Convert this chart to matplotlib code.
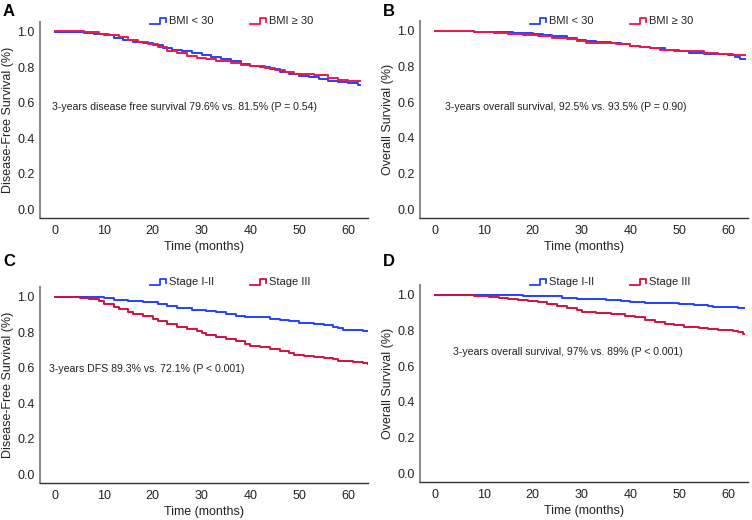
import matplotlib
matplotlib.use("Agg")
import matplotlib.pyplot as plt
from matplotlib.lines import Line2D

plt.rcParams['font.family'] = ['Liberation Sans', 'DejaVu Sans']

W, H = 752, 520

# ---------------- data ----------------
# Panel A: disease-free survival by BMI
a_low_t = [0, 3, 6, 8, 10, 12, 14, 16, 18, 20, 22, 24, 26, 28, 30, 32, 34, 36, 38, 40,
           42, 44, 46, 48, 50, 52, 54, 56, 58, 60, 62, 62.4]
a_low_s = [1.0, 0.998, 0.995, 0.99, 0.985, 0.965, 0.955, 0.945, 0.935, 0.925, 0.91, 0.898,
           0.89, 0.88, 0.87, 0.86, 0.845, 0.835, 0.82, 0.805, 0.80, 0.79, 0.775, 0.762,
           0.752, 0.745, 0.735, 0.725, 0.718, 0.71, 0.70, 0.70]
a_high_t = [0, 6, 9, 11, 13, 15, 17, 19, 21, 23, 25, 27, 29, 31, 33, 36, 38, 40, 43, 45,
            47, 49, 53, 56, 58, 60, 62.4]
a_high_s = [1.003, 0.997, 0.99, 0.98, 0.97, 0.955, 0.945, 0.93, 0.915, 0.895, 0.882, 0.866,
            0.855, 0.845, 0.835, 0.826, 0.815, 0.805, 0.795, 0.785, 0.772, 0.765, 0.758,
            0.74, 0.73, 0.725, 0.723]

# Panel B: overall survival by BMI
b_low_t = [0, 8, 12, 16, 20, 22, 24, 27, 29, 31, 33, 36, 38, 40, 42, 44, 47, 50, 52, 55,
           58, 60, 61.5, 62.5, 63.4]
b_low_s = [1.0, 0.997, 0.992, 0.99, 0.985, 0.978, 0.97, 0.96, 0.952, 0.946, 0.94, 0.932,
           0.925, 0.915, 0.91, 0.902, 0.895, 0.888, 0.878, 0.873, 0.87, 0.866, 0.855,
           0.845, 0.845]
b_high_t = [0, 8, 12, 15, 18, 21, 24, 27, 29, 31, 34, 37, 40, 42, 44, 46, 49, 52, 55, 58,
            61, 63.4]
b_high_s = [1.0, 0.995, 0.99, 0.985, 0.978, 0.97, 0.962, 0.955, 0.942, 0.935, 0.93, 0.925,
            0.918, 0.91, 0.902, 0.895, 0.89, 0.885, 0.878, 0.872, 0.866, 0.863]

# Panel C: disease-free survival by stage
c_early_t = [0, 6, 10, 12, 15, 18, 21, 23, 25, 28, 31, 33, 35, 37, 39, 42, 44, 46, 48, 50,
             53, 55, 57, 58, 59, 61, 63, 64]
c_early_s = [1.0, 0.998, 0.992, 0.985, 0.978, 0.97, 0.96, 0.95, 0.935, 0.925, 0.918, 0.915,
             0.905, 0.895, 0.888, 0.885, 0.878, 0.87, 0.862, 0.855, 0.85, 0.842, 0.83,
             0.822, 0.815, 0.811, 0.808, 0.808]
c_late_t = [0, 5, 7, 9, 10, 12, 13, 15, 16, 18, 20, 21, 23, 25, 27, 29, 30, 31, 33, 35, 37,
            39, 40, 42, 44, 46, 48, 49, 51, 53, 55, 57, 58, 61, 63, 64]
c_late_s = [1.0, 0.995, 0.99, 0.975, 0.96, 0.945, 0.932, 0.915, 0.905, 0.89, 0.875, 0.865,
            0.85, 0.832, 0.82, 0.805, 0.795, 0.785, 0.775, 0.76, 0.75, 0.735, 0.725, 0.718,
            0.705, 0.695, 0.685, 0.675, 0.668, 0.662, 0.655, 0.648, 0.638, 0.632, 0.625,
            0.622]

# Panel D: overall survival by stage
d_early_t = [0, 12, 18, 22, 26, 29, 32, 35, 38, 40, 43, 47, 50, 53, 56, 57, 60, 62, 63.3]
d_early_s = [1.0, 0.998, 0.995, 0.992, 0.985, 0.98, 0.975, 0.97, 0.965, 0.96, 0.957, 0.953,
             0.95, 0.945, 0.94, 0.935, 0.932, 0.927, 0.927]
d_late_t = [0, 3, 8, 11, 13, 15, 17, 19, 21, 23, 25, 27, 29, 30, 33, 36, 39, 41, 43, 45, 47,
            49, 51, 54, 56, 58, 61, 62, 63, 63.3]
d_late_s = [1.0, 0.998, 0.995, 0.99, 0.985, 0.978, 0.972, 0.965, 0.96, 0.948, 0.938, 0.928,
            0.918, 0.907, 0.9, 0.893, 0.882, 0.875, 0.86, 0.848, 0.838, 0.83, 0.822, 0.815,
            0.81, 0.806, 0.8, 0.79, 0.782, 0.782]

x_ticks = [0, 10, 20, 30, 40, 50, 60]
y_ticks = [0.0, 0.2, 0.4, 0.6, 0.8, 1.0]
y_tick_labels = ["0.0", "0.2", "0.4", "0.6", "0.8", "1.0"]

BLUE = "#2340ff"
RED_AB = "#f0174b"
RED_CD = "#d3103f"

panels = [
    dict(letter="A", box=(40, 22, 368, 218), ylabel="Disease-Free Survival (%)",
         curves=[(a_low_t, a_low_s, BLUE), (a_high_t, a_high_s, RED_AB)],
         legend=["BMI < 30", "BMI \u2265 30"], leg_x=(150, 250), leg_y=21,
         note="3-years disease free survival 79.6% vs. 81.5% (P = 0.54)", note_xy=(52, 107),
         red=RED_AB, letter_xy=(3, 11)),
    dict(letter="B", box=(420, 21, 748, 218), ylabel="Overall Survival (%)",
         curves=[(b_low_t, b_low_s, BLUE), (b_high_t, b_high_s, RED_AB)],
         legend=["BMI < 30", "BMI \u2265 30"], leg_x=(530, 630), leg_y=21,
         note="3-years overall survival, 92.5% vs. 93.5% (P = 0.90)", note_xy=(445, 107),
         red=RED_AB, letter_xy=(383, 11)),
    dict(letter="C", box=(40, 287, 368, 483), ylabel="Disease-Free Survival (%)",
         curves=[(c_early_t, c_early_s, BLUE), (c_late_t, c_late_s, RED_CD)],
         legend=["Stage I-II", "Stage III"], leg_x=(150, 250), leg_y=282,
         note="3-years DFS 89.3% vs. 72.1% (P < 0.001)", note_xy=(49, 369),
         red=RED_CD, letter_xy=(3, 262)),
    dict(letter="D", box=(420, 285, 748, 482), ylabel="Overall Survival (%)",
         curves=[(d_early_t, d_early_s, BLUE), (d_late_t, d_late_s, RED_CD)],
         legend=["Stage I-II", "Stage III"], leg_x=(530, 630), leg_y=282,
         note="3-years overall survival, 97% vs. 89% (P < 0.001)", note_xy=(453, 352),
         red=RED_CD, letter_xy=(383, 261)),
]

fig = plt.figure(figsize=(W / 100, H / 100), dpi=100)


def fx(px):
    return px / W


def fy(py):
    return 1 - py / H


for p in panels:
    l, t, r, b = p["box"]
    ax = fig.add_axes([fx(l), fy(b), (r - l) / W, (b - t) / H])
    for tt, ss, col in p["curves"]:
        ax.step(tt, ss, where="post", color=col, lw=1.4)
    ax.set_xlim(-3.1, 64.1)
    ax.set_ylim(-0.05, 1.056)
    ax.set_xticks(x_ticks)
    ax.set_yticks(y_ticks)
    ax.set_yticklabels(y_tick_labels)
    ax.tick_params(length=0, labelsize=9, labelcolor="#222222")
    ax.tick_params(axis="x", pad=5)
    ax.tick_params(axis="y", pad=4)
    for s in ["top", "right"]:
        ax.spines[s].set_visible(False)
    ax.spines["left"].set_color("#8c8c8c")
    ax.spines["left"].set_linewidth(1.5)
    ax.spines["bottom"].set_color("#333333")
    ax.spines["bottom"].set_linewidth(1.0)
    ax.set_xlabel("Time (months)", fontsize=9, color="#222222", labelpad=3)
    ax.set_ylabel(p["ylabel"], fontsize=9, color="#222222", labelpad=2)

    # panel letter
    fig.text(fx(p["letter_xy"][0]), fy(p["letter_xy"][1]), p["letter"], fontsize=12,
             fontweight="bold", va="center", ha="left")
    # note
    fig.text(fx(p["note_xy"][0]), fy(p["note_xy"][1]), p["note"], fontsize=7.6,
             va="center", ha="left", color="#222222")
    # legend with step-shaped handles
    for lx, lab, col in zip(p["leg_x"], p["legend"], [BLUE, p["red"]]):
        y0 = p["leg_y"]
        xs = [lx, lx + 10, lx + 10, lx + 16, lx + 16]
        ys = [y0 + 3, y0 + 3, y0 - 3, y0 - 3, y0 + 1]
        fig.add_artist(Line2D([fx(v) for v in xs], [fy(v) for v in ys], color=col, lw=1.3,
                              transform=fig.transFigure))
        fig.text(fx(lx + 19), fy(y0), lab, fontsize=8, va="center", ha="left",
                 color="#222222")

fig.savefig("out.png", dpi=100)
